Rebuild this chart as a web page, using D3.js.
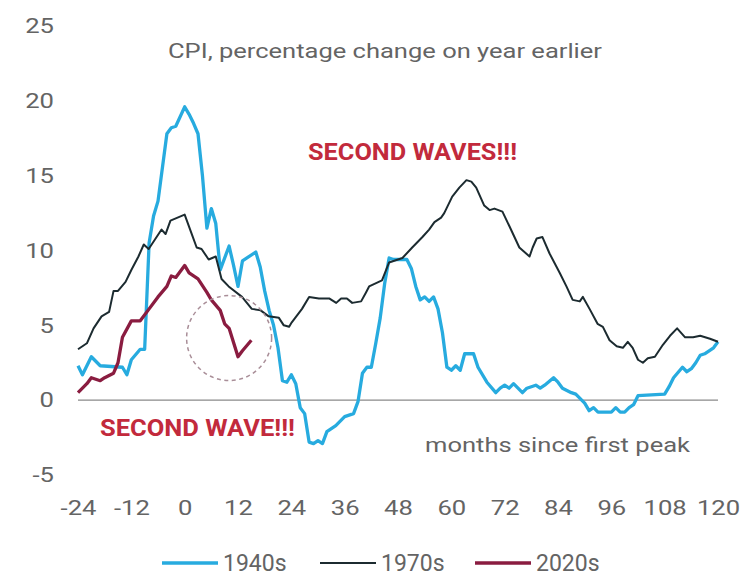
<!DOCTYPE html>
<html>
<head>
<meta charset="utf-8">
<script src="https://cdn.jsdelivr.net/npm/d3@7/dist/d3.min.js"></script>
<style>
  body { margin: 0; background: #fff; }
  text { font-family: Roboto, "Open Sans", sans-serif; }
</style>
</head>
<body>
<svg id="chart" width="741" height="576"></svg>
<script>
// months since first peak, and CPI y/y %
const months1940 = [-24, -23, -21, -19, -14, -13, -12, -10, -9, -8, -7, -6, -4, -3, -2, 0, 1, 2, 3, 4, 5, 6, 7, 8, 10, 11, 12, 13, 16, 17, 18, 19, 20, 21, 22, 23, 24, 25, 26, 27, 28, 29, 30, 31, 32, 34, 36, 38, 39, 40, 41, 42, 43, 44, 45, 46, 47, 50, 51, 52, 53, 54, 55, 56, 57, 58, 59, 60, 61, 62, 63, 65, 66, 68, 70, 71, 72, 73, 74, 76, 77, 78, 79, 80, 81, 83, 84, 85, 87, 88, 90, 91, 92, 93, 96, 97, 98, 99, 100, 101, 102, 108, 109, 110, 112, 113, 114, 115, 116, 117, 119, 120];
const values1940 = [2.3, 1.7, 2.9, 2.3, 2.2, 1.7, 2.7, 3.4, 3.4, 10.5, 12.3, 13.3, 17.8, 18.2, 18.3, 19.6, 19.1, 18.5, 17.8, 15.0, 11.5, 12.8, 11.8, 8.7, 10.3, 9.0, 7.6, 9.3, 9.9, 8.9, 7.3, 6.0, 5.0, 3.5, 1.3, 1.2, 1.7, 1.1, -0.5, -0.9, -2.8, -2.9, -2.7, -2.9, -2.1, -1.7, -1.1, -0.9, -0.1, 1.8, 2.2, 2.2, 3.8, 5.5, 7.8, 9.5, 9.4, 9.4, 8.8, 7.6, 6.7, 6.9, 6.6, 6.9, 6.1, 4.5, 2.2, 2.0, 2.3, 2.0, 3.1, 3.1, 2.2, 1.2, 0.5, 0.8, 1.0, 0.8, 1.1, 0.5, 0.8, 0.9, 1.0, 0.8, 1.0, 1.5, 1.2, 0.8, 0.5, 0.4, -0.2, -0.7, -0.5, -0.8, -0.8, -0.5, -0.8, -0.8, -0.5, -0.3, 0.3, 0.4, 0.9, 1.5, 2.2, 1.9, 2.1, 2.5, 3.0, 3.1, 3.5, 3.9];

const months1970 = [-24, -22, -20.5, -18.7, -17, -16, -15, -13.3, -12, -10.4, -9.2, -8.1, -5.2, -4.3, -3.2, 0, 1.6, 2.7, 3.8, 5.4, 7, 8.3, 9.9, 12.9, 15.1, 17.1, 18.9, 21.2, 22.3, 23.5, 24.1, 26.4, 28, 30.2, 32.5, 34.1, 35.2, 36.5, 37.7, 39.7, 40.8, 41.5, 44.4, 46, 49, 51.2, 53.5, 55, 56.2, 57.7, 58.4, 60.2, 61.8, 63.4, 64.5, 65.6, 67.4, 68.6, 69.7, 71.5, 73.1, 75.3, 77.6, 78.3, 79.2, 80.5, 82.1, 84.4, 85.9, 87.3, 88.9, 89.6, 91.1, 92.9, 94.1, 95.6, 97.2, 98.6, 99.7, 100.8, 102, 103.1, 104.2, 105.8, 107.6, 109.2, 110.8, 112.6, 114.4, 116, 118.2, 120];
const values1970 = [3.4, 3.8, 4.8, 5.6, 5.9, 7.3, 7.3, 7.9, 8.7, 9.6, 10.4, 10.1, 11.4, 11.1, 12.0, 12.4, 11.1, 10.2, 10.1, 9.4, 9.6, 8.1, 7.6, 6.9, 6.1, 6.0, 5.6, 5.5, 5.0, 4.9, 5.2, 6.1, 6.9, 6.8, 6.8, 6.5, 6.8, 6.8, 6.5, 6.6, 7.2, 7.6, 8.0, 9.2, 9.5, 10.2, 10.9, 11.4, 11.9, 12.2, 12.5, 13.6, 14.2, 14.7, 14.6, 14.2, 13.0, 12.7, 12.8, 12.6, 11.6, 10.2, 9.6, 10.2, 10.8, 10.9, 9.8, 8.5, 7.6, 6.7, 6.6, 6.9, 6.1, 5.1, 4.9, 4.0, 3.6, 3.5, 3.9, 3.5, 2.7, 2.5, 2.8, 2.9, 3.7, 4.3, 4.8, 4.2, 4.2, 4.3, 4.1, 3.9];

const months2020 = [-24, -22, -21, -19, -18, -16, -15, -14, -12, -10, -8, -6, -4, -3, -2, 0, 1, 3, 5, 6, 8, 9, 10, 12, 13, 15];
const values2020 = [0.5, 1.1, 1.5, 1.3, 1.5, 1.8, 2.5, 4.2, 5.3, 5.3, 6.1, 6.9, 7.6, 8.3, 8.2, 9.0, 8.5, 8.1, 7.2, 6.7, 6.0, 5.1, 4.8, 2.9, 3.3, 4.0];

const xTicks = [-24, -12, 0, 12, 24, 36, 48, 60, 72, 84, 96, 108, 120];
const yTicks = [-5, 0, 5, 10, 15, 20, 25];

const seriesNames = ["1940s", "1970s", "2020s"];
const seriesColors = ["#27abdf", "#1c2b30", "#8a1c40"];
const seriesWidths = [3.3, 2, 3.3];

const grey = "#646464";

const svg = d3.select("#chart");

const x = d3.scaleLinear().domain([-24, 120]).range([78, 718]);
const y = d3.scaleLinear().domain([-5, 25]).range([475, 26]);

// the picture's type is a bit wider than Roboto, stretch it
function widen(sel, k) {
  sel.each(function () {
    const w = this.getComputedTextLength();
    d3.select(this)
      .attr("textLength", w * k)
      .attr("lengthAdjust", "spacingAndGlyphs");
  });
}

// y labels, no axis line
svg.append("g")
  .attr("transform", "translate(54,0)")
  .call(d3.axisLeft(y).tickValues(yTicks).tickFormat(d => String(d)).tickSize(0).tickPadding(0))
  .call(g => g.select(".domain").remove())
  .selectAll("text")
  .attr("font-size", 21)
  .attr("fill", grey)
  .attr("font-family", "Roboto")
  .call(widen, 1.22);

svg.append("g")
  .attr("transform", "translate(0,500)")
  .call(d3.axisBottom(x).tickValues(xTicks).tickFormat(d => String(d)).tickSize(0).tickPadding(0))
  .call(g => g.select(".domain").remove())
  .selectAll("text")
  .attr("font-size", 21)
  .attr("fill", grey)
  .attr("font-family", "Roboto")
  .call(widen, 1.22);

// zero line
svg.append("line")
  .attr("x1", x(-24))
  .attr("x2", x(120))
  .attr("y1", y(0))
  .attr("y2", y(0))
  .attr("stroke", "#8a8a8a")
  .attr("stroke-width", 1.2);

const line = d3.line()
  .x(d => x(d[0]))
  .y(d => y(d[1]));

const series = [
  d3.zip(months1940, values1940),
  d3.zip(months1970, values1970),
  d3.zip(months2020, values2020)
];

series.forEach((pts, i) => {
  svg.append("path")
    .datum(pts)
    .attr("d", line)
    .attr("fill", "none")
    .attr("stroke", seriesColors[i])
    .attr("stroke-width", seriesWidths[i])
    .attr("stroke-linejoin", "round");
});

// dashed circle round the 2020s dip
svg.append("circle")
  .attr("cx", x(10))
  .attr("cy", y(4.15))
  .attr("r", 42.5)
  .attr("fill", "none")
  .attr("stroke", "#a98e98")
  .attr("stroke-width", 1.5)
  .attr("stroke-dasharray", "4,3.5");

svg.append("text")
  .text("CPI, percentage change on year earlier")
  .attr("x", 168)
  .attr("y", 58)
  .attr("textLength", 434)
  .attr("lengthAdjust", "spacingAndGlyphs")
  .attr("font-size", 20)
  .attr("fill", grey);

svg.append("text")
  .text("SECOND WAVES!!!")
  .attr("x", 308)
  .attr("y", 160)
  .attr("textLength", 209)
  .attr("lengthAdjust", "spacingAndGlyphs")
  .attr("font-size", 24)
  .attr("font-weight", "bold")
  .attr("fill", "#c22a3c");

svg.append("text")
  .text("SECOND WAVE!!!")
  .attr("x", 100)
  .attr("y", 436)
  .attr("textLength", 195)
  .attr("lengthAdjust", "spacingAndGlyphs")
  .attr("font-size", 24)
  .attr("font-weight", "bold")
  .attr("fill", "#c22a3c");

svg.append("text")
  .text("months since first peak")
  .attr("x", 425)
  .attr("y", 452)
  .attr("textLength", 265)
  .attr("lengthAdjust", "spacingAndGlyphs")
  .attr("font-size", 21)
  .attr("fill", grey);

// legend
const legendX = [162, 320, 475];
const legend = svg.selectAll(".legend")
  .data(seriesNames)
  .enter()
  .append("g")
  .attr("transform", (d, i) => "translate(" + legendX[i] + ",563)");

legend.append("line")
  .attr("x1", 0)
  .attr("x2", 56)
  .attr("stroke", (d, i) => seriesColors[i])
  .attr("stroke-width", (d, i) => seriesWidths[i]);

legend.append("text")
  .text(d => d)
  .attr("x", 61)
  .attr("dy", "0.36em")
  .attr("font-size", 23)
  .attr("fill", grey);
</script>
</body>
</html>
